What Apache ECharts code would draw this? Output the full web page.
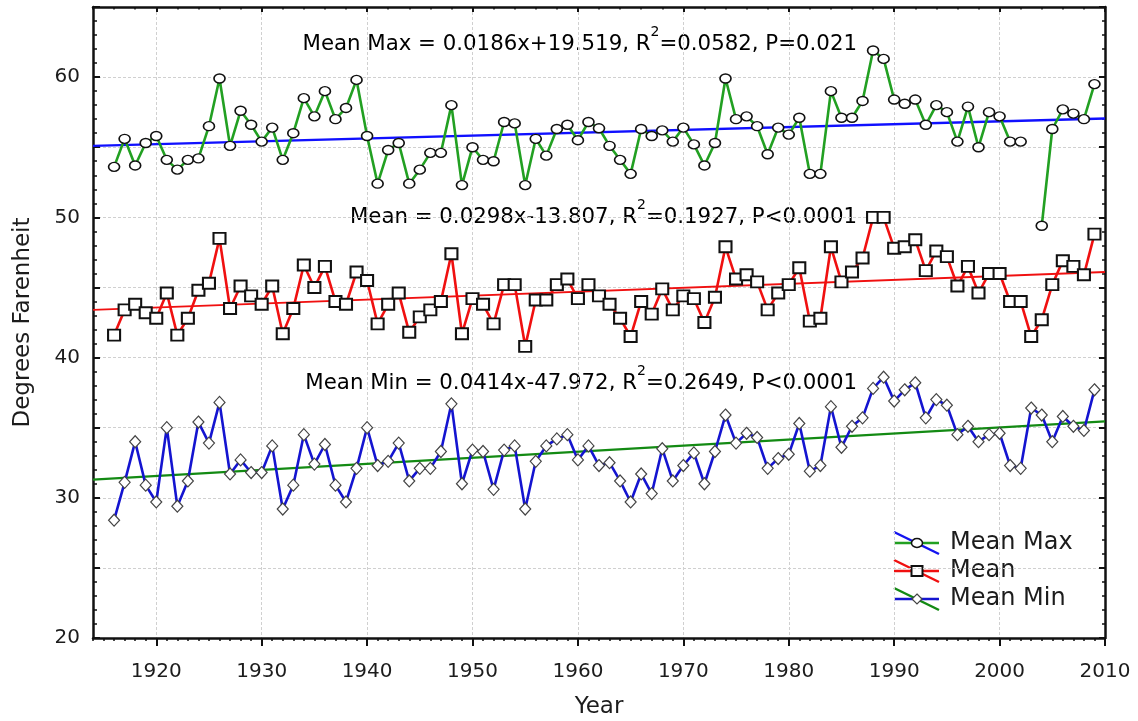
<!DOCTYPE html>
<html>
<head>
<meta charset="utf-8">
<title>Mean temperatures 1916-2009</title>
<script src="https://cdn.jsdelivr.net/npm/echarts@6/dist/echarts.min.js"></script>
<style>
  html, body { margin: 0; padding: 0; background: #fff; }
  #container { width: 1138px; height: 721px; }
</style>
</head>
<body>
<div id="container"></div>
<script>
  let years = [
    1916, 1917, 1918, 1919,
    1920, 1921, 1922, 1923, 1924, 1925, 1926, 1927, 1928, 1929,
    1930, 1931, 1932, 1933, 1934, 1935, 1936, 1937, 1938, 1939,
    1940, 1941, 1942, 1943, 1944, 1945, 1946, 1947, 1948, 1949,
    1950, 1951, 1952, 1953, 1954, 1955, 1956, 1957, 1958, 1959,
    1960, 1961, 1962, 1963, 1964, 1965, 1966, 1967, 1968, 1969,
    1970, 1971, 1972, 1973, 1974, 1975, 1976, 1977, 1978, 1979,
    1980, 1981, 1982, 1983, 1984, 1985, 1986, 1987, 1988, 1989,
    1990, 1991, 1992, 1993, 1994, 1995, 1996, 1997, 1998, 1999,
    2000, 2001, 2002, 2003, 2004, 2005, 2006, 2007, 2008, 2009
  ];

  let maxVals = [
    53.6, 55.6, 53.7, 55.3,
    55.8, 54.1, 53.4, 54.1, 54.2, 56.5, 59.9, 55.1, 57.6, 56.6,
    55.4, 56.4, 54.1, 56.0, 58.5, 57.2, 59.0, 57.0, 57.8, 59.8,
    55.8, 52.4, 54.8, 55.3, 52.4, 53.4, 54.6, 54.6, 58.0, 52.3,
    55.0, 54.1, 54.0, 56.8, 56.7, 52.3, 55.6, 54.4, 56.3, 56.6,
    55.5, 56.8, 56.35, 55.1, 54.1, 53.1, 56.3, 55.8, 56.2, 55.4,
    56.4, 55.2, 53.7, 55.3, 59.9, 57.0, 57.2, 56.5, 54.5, 56.4,
    55.9, 57.1, 53.1, 53.1, 59.0, 57.1, 57.1, 58.3, 61.9, 61.3,
    58.4, 58.1, 58.4, 56.6, 58.0, 57.5, 55.4, 57.9, 55.0, 57.5,
    57.2, 55.4, 55.4, null, 49.4, 56.3, 57.7, 57.4, 57.0, 59.5
  ];

  let meanVals = [
    41.6, 43.4, 43.8, 43.2,
    42.8, 44.6, 41.6, 42.8, 44.8, 45.3, 48.5, 43.5, 45.1, 44.4,
    43.8, 45.1, 41.7, 43.5, 46.6, 45.0, 46.5, 44.0, 43.8, 46.1,
    45.5, 42.4, 43.8, 44.6, 41.8, 42.9, 43.4, 44.0, 47.4, 41.7,
    44.2, 43.8, 42.4, 45.2, 45.2, 40.8, 44.1, 44.1, 45.2, 45.6,
    44.2, 45.2, 44.4, 43.8, 42.8, 41.5, 44.0, 43.1, 44.9, 43.4,
    44.4, 44.2, 42.5, 44.3, 47.9, 45.6, 45.9, 45.4, 43.4, 44.6,
    45.2, 46.4, 42.6, 42.8, 47.9, 45.4, 46.1, 47.1, 50.0, 50.0,
    47.8, 47.9, 48.4, 46.2, 47.6, 47.2, 45.1, 46.5, 44.6, 46.0,
    46.0, 44.0, 44.0, 41.5, 42.7, 45.2, 46.9, 46.5, 45.9, 48.8
  ];

  let minVals = [
    28.4, 31.1, 34.0, 30.9,
    29.7, 35.0, 29.4, 31.2, 35.4, 33.9, 36.8, 31.7, 32.7, 31.8,
    31.8, 33.7, 29.2, 30.9, 34.5, 32.4, 33.8, 30.9, 29.7, 32.1,
    35.0, 32.3, 32.6, 33.9, 31.2, 32.1, 32.1, 33.3, 36.7, 31.0,
    33.4, 33.3, 30.6, 33.4, 33.7, 29.2, 32.6, 33.7, 34.2, 34.5,
    32.7, 33.7, 32.3, 32.5, 31.2, 29.7, 31.7, 30.3, 33.5, 31.2,
    32.3, 33.2, 31.0, 33.3, 35.9, 33.9, 34.6, 34.3, 32.1, 32.8,
    33.1, 35.3, 31.9, 32.3, 36.5, 33.6, 35.1, 35.7, 37.8, 38.6,
    36.9, 37.7, 38.2, 35.7, 37.0, 36.6, 34.5, 35.1, 34.0, 34.5,
    34.6, 32.3, 32.1, 36.4, 35.9, 34.0, 35.8, 35.1, 34.8, 37.7
  ];

  // fitted lines, end points
  let maxTrend = [[1914, 55.1], [2010, 57.05]];
  let meanTrend = [[1914, 43.4], [2010, 46.1]];
  let minTrend = [[1914, 31.3], [2010, 35.45]];

  let xTicks = [1920, 1930, 1940, 1950, 1960, 1970, 1980, 1990, 2000, 2010];
  let yLabels = [20, 30, 40, 50, 60];

  let maxText = ['Mean Max = 0.0186x+19.519, R', '2', '=0.0582, P=0.021'];
  let meanText = ['Mean = 0.0298x-13.807, R', '2', '=0.1927, P<0.0001'];
  let minText = ['Mean Min = 0.0414x-47.972, R', '2', '=0.2649, P<0.0001'];

  let font = 'DejaVu Sans';
  let ink = '#1c1c1c';
  let green = '#22a022';
  let blue = '#1414d0';
  let red = '#f01010';

  function pairs(vals) {
    return years.map((y, i) => [y, vals[i]]);
  }

  function eqText(parts, y) {
    return {
      type: 'text',
      x: 857,
      y: y,
      style: {
        text: '{t|' + parts[0] + '}{s|' + parts[1] + '}{t|' + parts[2] + '}',
        align: 'right',
        verticalAlign: 'middle',
        rich: {
          t: {fontFamily: font, fontSize: 21.3, color: ink, lineHeight: 38, verticalAlign: 'middle'},
          s: {fontFamily: font, fontSize: 14, color: ink, lineHeight: 16, verticalAlign: 'top'}
        }
      }
    };
  }

  function legendRow(y, diagColor, lineColor, marker, label) {
    return [
      {type: 'line', shape: {x1: 894, y1: y - 11, x2: 939, y2: y + 11}, style: {stroke: diagColor, lineWidth: 2.5}},
      {type: 'line', shape: {x1: 894, y1: y, x2: 939, y2: y}, style: {stroke: lineColor, lineWidth: 2.5}},
      marker,
      {type: 'text', x: 950, y: y, style: {text: label, fontFamily: font, fontSize: 24, fill: ink, verticalAlign: 'middle'}}
    ];
  }

  let dom = document.getElementById('container');
  let myChart = echarts.init(dom);

  let axisLine = {lineStyle: {color: '#111', width: 2.5}};
  let tickLine = {color: '#111', width: 2};
  let gridLine = {show: true, lineStyle: {color: '#d0d0d0', type: [3, 2], width: 1}};

  let option = {
    animation: false,
    backgroundColor: '#fff',
    grid: {left: 93, right: 33, top: 7, bottom: 83, outerBoundsMode: 'none'},
    xAxis: [
      {
        type: 'value',
        min: 1914,
        max: 2010,
        position: 'bottom',
        name: 'Year',
        nameLocation: 'middle',
        nameGap: 58,
        nameTextStyle: {fontFamily: font, fontSize: 23, color: ink},
        axisLine: axisLine,
        axisTick: {customValues: xTicks, length: 8, lineStyle: tickLine},
        axisLabel: {
          customValues: xTicks,
          margin: 24,
          fontFamily: font,
          fontSize: 20,
          color: ink,
          formatter: v => String(v)
        },
        splitLine: gridLine
      },
      {
        // one-year ticks
        type: 'value',
        min: 1914,
        max: 2010,
        interval: 1,
        position: 'bottom',
        axisLine: {show: false},
        axisTick: {length: 3, lineStyle: {color: '#111', width: 1.5}},
        axisLabel: {show: false},
        splitLine: {show: false}
      },
      {
        type: 'value',
        min: 1914,
        max: 2010,
        position: 'top',
        axisLine: axisLine,
        axisTick: {customValues: xTicks, inside: true, length: 5, lineStyle: tickLine},
        axisLabel: {show: false},
        splitLine: {show: false}
      },
      {
        type: 'value',
        min: 1914,
        max: 2010,
        interval: 2,
        position: 'top',
        axisLine: {show: false},
        axisTick: {inside: true, length: 2.5, lineStyle: {color: '#111', width: 1.5}},
        axisLabel: {show: false},
        splitLine: {show: false}
      }
    ],
    yAxis: [
      {
        type: 'value',
        min: 20,
        max: 65,
        interval: 5,
        position: 'left',
        name: 'Degrees Farenheit',
        nameLocation: 'middle',
        nameRotate: 90,
        nameGap: 58,
        nameTextStyle: {fontFamily: font, fontSize: 23, color: ink},
        axisLine: axisLine,
        axisTick: {inside: true, length: 7, lineStyle: tickLine},
        minorTick: {show: true, splitNumber: 5, length: 4, lineStyle: {color: '#111', width: 1.5}},
        axisLabel: {
          margin: 13,
          fontFamily: font,
          fontSize: 20,
          color: ink,
          formatter: v => yLabels.indexOf(v) >= 0 ? String(v) : ''
        },
        splitLine: gridLine
      },
      {
        type: 'value',
        min: 20,
        max: 65,
        interval: 5,
        position: 'right',
        axisLine: axisLine,
        axisTick: {inside: true, length: 6, lineStyle: tickLine},
        minorTick: {show: true, splitNumber: 5, length: 3, lineStyle: {color: '#111', width: 1.5}},
        axisLabel: {show: false},
        splitLine: {show: false}
      }
    ],
    series: [
      {
        name: 'Max trend',
        type: 'line',
        data: maxTrend,
        symbol: 'none',
        z: 1,
        lineStyle: {color: '#1010ff', width: 2.3}
      },
      {
        name: 'Mean trend',
        type: 'line',
        data: meanTrend,
        symbol: 'none',
        z: 1,
        lineStyle: {color: red, width: 1.8}
      },
      {
        name: 'Min trend',
        type: 'line',
        data: minTrend,
        symbol: 'none',
        z: 1,
        lineStyle: {color: '#138a13', width: 2.3}
      },
      {
        name: 'Mean Max',
        type: 'line',
        data: pairs(maxVals),
        connectNulls: false,
        symbol: 'circle',
        symbolSize: [11, 9],
        z: 3,
        itemStyle: {color: '#fff', borderColor: '#111', borderWidth: 1.5},
        lineStyle: {color: green, width: 2.6}
      },
      {
        name: 'Mean',
        type: 'line',
        data: pairs(meanVals),
        symbol: 'rect',
        symbolSize: [12, 11],
        z: 3,
        itemStyle: {color: '#fff', borderColor: '#111', borderWidth: 2},
        lineStyle: {color: red, width: 2.6}
      },
      {
        name: 'Mean Min',
        type: 'line',
        data: pairs(minVals),
        symbol: 'diamond',
        symbolSize: [11, 12],
        z: 3,
        itemStyle: {color: '#fff', borderColor: '#444', borderWidth: 1.2},
        lineStyle: {color: blue, width: 2.6}
      }
    ],
    graphic: [
      eqText(maxText, 44.5),
      eqText(meanText, 217.5),
      eqText(minText, 383)
    ].concat(
      legendRow(543, '#1414f0', green,
        {type: 'ellipse', shape: {cx: 917, cy: 543, rx: 5.5, ry: 4.5}, style: {fill: '#fff', stroke: '#111', lineWidth: 1.5}},
        'Mean Max'),
      legendRow(571, red, red,
        {type: 'rect', shape: {x: 911.5, y: 566, width: 11, height: 10}, style: {fill: '#fff', stroke: '#111', lineWidth: 2}},
        'Mean'),
      legendRow(599, '#138a13', blue,
        {type: 'polygon', shape: {points: [[917, 594], [922, 599], [917, 604], [912, 599]]}, style: {fill: '#fff', stroke: '#444', lineWidth: 1.2}},
        'Mean Min')
    )
  };

  myChart.setOption(option, true);
</script>
</body>
</html>
